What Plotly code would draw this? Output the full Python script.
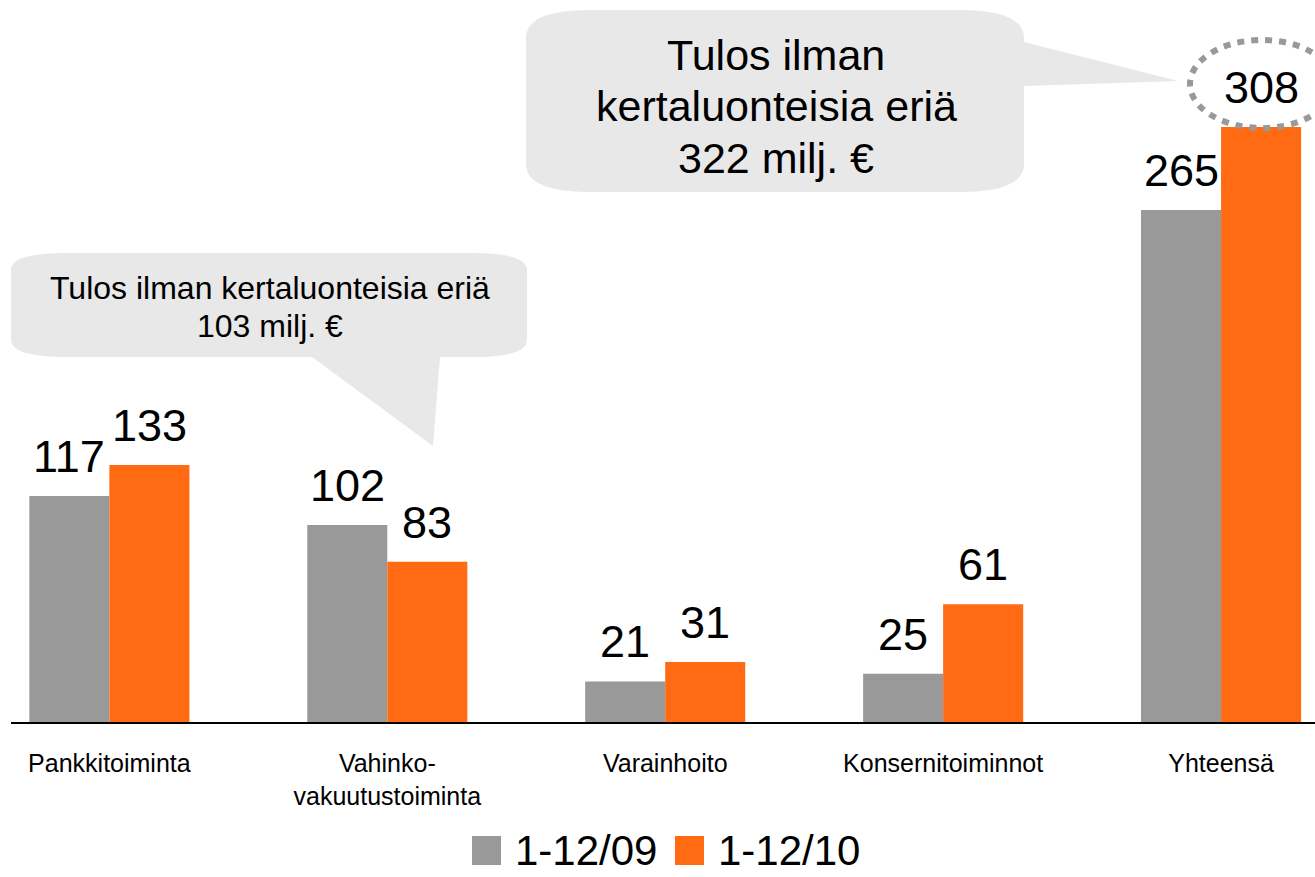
import plotly.graph_objects as go

# ---------------- data ----------------
categories = ["Pankkitoiminta", "Vahinko-<br>vakuutustoiminta", "Varainhoito",
              "Konsernitoiminnot", "Yhteensä"]
series_names = ["1-12/09", "1-12/10"]
values_09 = [117, 102, 21, 25, 265]
values_10 = [133, 83, 31, 61, 308]
callout_left = ["Tulos ilman kertaluonteisia eriä", "103 milj. €"]
callout_right = ["Tulos ilman", "kertaluonteisia eriä", "322 milj. €"]

# ---------------- style ----------------
GRAY = "#999999"
ORANGE = "#FF6A13"
BUBBLE = "#E8E8E8"
FONT = "Liberation Sans, Arial, sans-serif"
W, H = 1315, 877
ML, MR, MT, MB = 11, 0, 0, 155
PW, PH = W - ML - MR, H - MT - MB


def fx(x):
    return (x - ML) / PW


def fy(y):
    return (MT + PH - y) / PH


def path(points):
    """points: list of (cmd, [(x,y),...]) in pixel coords -> paper path."""
    parts = []
    for cmd, pts in points:
        coords = " ".join(f"{fx(x):.5f},{fy(y):.5f}" for x, y in pts)
        parts.append(f"{cmd}{coords}" if cmd != "Z" else "Z")
    return " ".join(parts)


def rounded_bubble(x0, y0, x1, y1, rx, ry, tail_side, tail):
    seg = [("M", [(x0 + rx, y0)]), ("L", [(x1 - rx, y0)]), ("Q", [(x1, y0), (x1, y0 + ry)])]
    if tail_side == "right":
        seg += [("L", [tail[0]]), ("L", [tail[1]]), ("L", [tail[2]])]
    seg += [("L", [(x1, y1 - ry)]), ("Q", [(x1, y1), (x1 - rx, y1)])]
    if tail_side == "bottom":
        seg += [("L", [tail[0]]), ("L", [tail[1]]), ("L", [tail[2]])]
    seg += [("L", [(x0 + rx, y1)]), ("Q", [(x0, y1), (x0, y1 - ry)]),
            ("L", [(x0, y0 + ry)]), ("Q", [(x0, y0), (x0 + rx, y0)]), ("Z", [])]
    return path(seg)


fig = go.Figure()
fig.add_trace(go.Bar(name=series_names[0], x=categories, y=values_09,
                     marker=dict(color=GRAY, line=dict(width=0))))
fig.add_trace(go.Bar(name=series_names[1], x=categories, y=values_10,
                     marker=dict(color=ORANGE, line=dict(width=0))))

annotations = []
# value labels
for vals, shift in ((values_09, -40), (values_10, 40)):
    for c, v in zip(categories, vals):
        annotations.append(dict(x=c, y=v, xref="x", yref="y", text=str(v),
                                showarrow=False, xshift=shift, yshift=12,
                                yanchor="bottom", xanchor="center",
                                font=dict(size=45, color="#000", family=FONT)))

# callout texts
for i, t in enumerate(callout_left):
    annotations.append(dict(x=fx(270), y=fy(288 + 38 * i), xref="paper", yref="paper",
                            text=t, showarrow=False, xanchor="center", yanchor="middle",
                            font=dict(size=32, color="#000", family=FONT)))
for i, t in enumerate(callout_right):
    annotations.append(dict(x=fx(776), y=fy(55 + 51.5 * i), xref="paper", yref="paper",
                            text=t, showarrow=False, xanchor="center", yanchor="middle",
                            font=dict(size=43, color="#000", family=FONT)))

# manual legend
legend_items = [(series_names[0], GRAY, 472), (series_names[1], ORANGE, 675)]
LEG_TOP = 836
shapes = []
for name, col, x in legend_items:
    shapes.append(dict(type="rect", xref="paper", yref="paper",
                       x0=fx(x), x1=fx(x + 29), y0=fy(LEG_TOP + 29), y1=fy(LEG_TOP),
                       fillcolor=col, line=dict(width=0)))
    annotations.append(dict(x=fx(x + 41), y=fy(LEG_TOP + 14), xref="paper", yref="paper",
                            text=name, showarrow=False, xanchor="left", yanchor="middle",
                            font=dict(size=42, color="#000", family=FONT)))

# speech bubbles
shapes.append(dict(type="path", xref="paper", yref="paper", layer="below",
                   path=rounded_bubble(11, 253, 527, 357, 55, 17, "bottom",
                                       [(440, 357), (433, 446), (312, 357)]),
                   fillcolor=BUBBLE, line=dict(width=0)))
shapes.append(dict(type="path", xref="paper", yref="paper", layer="below",
                   path=rounded_bubble(526, 10, 1024, 192, 65, 28, "right",
                                       [(1024, 42), (1178, 81), (1024, 86)]),
                   fillcolor=BUBBLE, line=dict(width=0)))
# dashed ellipse highlighting total
shapes.append(dict(type="circle", xref="paper", yref="paper",
                   x0=fx(1190), x1=fx(1334), y0=fy(128), y1=fy(40),
                   line=dict(color=GRAY, width=6, dash="7px,7px"),
                   fillcolor="rgba(0,0,0,0)"))

fig.update_layout(
    width=W, height=H,
    margin=dict(l=ML, r=MR, t=MT, b=MB, pad=0),
    paper_bgcolor="white", plot_bgcolor="white",
    barmode="group", bargap=0.424, bargroupgap=0,
    showlegend=False,
    font=dict(family=FONT, color="#000"),
    xaxis=dict(type="category", range=[-0.354, 4.338], showline=True,
               linecolor="#000", linewidth=2, ticks="", showgrid=False,
               zeroline=False, tickfont=dict(size=25, color="#000", family=FONT),
               ticklabelstandoff=18),
    yaxis=dict(range=[0, 373.7], visible=False, showgrid=False, zeroline=False),
    annotations=annotations,
    shapes=shapes,
)

fig.write_html("out.html",
               config={"displayModeBar": False},
               post_script="document.body.style.margin='0';"
                           "document.body.style.overflow='hidden';")
